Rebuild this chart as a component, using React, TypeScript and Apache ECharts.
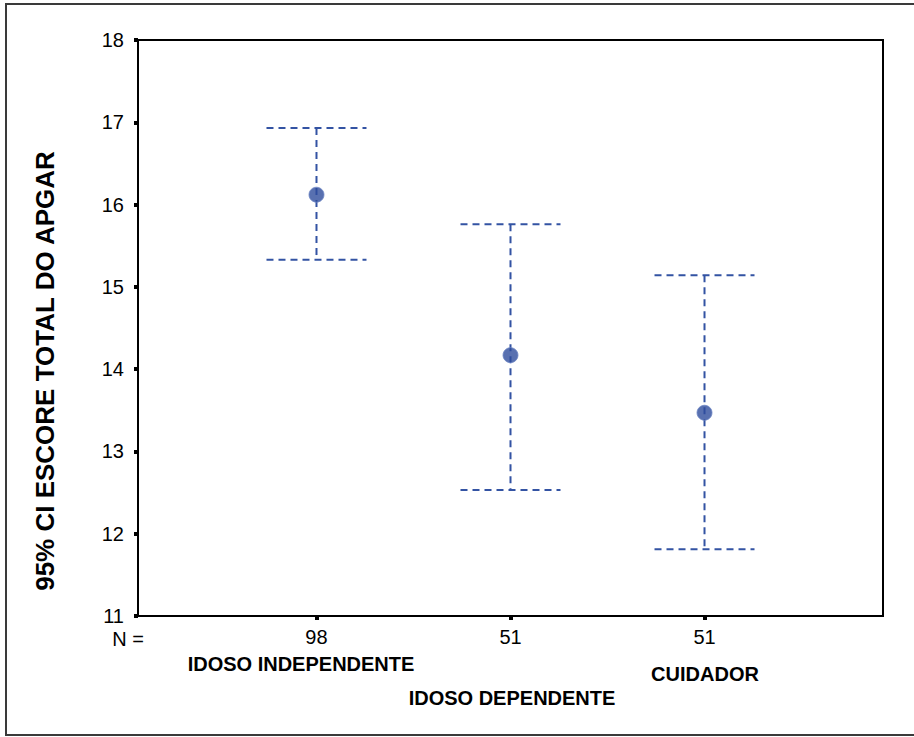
import React, { useEffect, useRef } from "react";
import * as echarts from "echarts";

const groups = ["IDOSO INDEPENDENTE", "IDOSO DEPENDENTE", "CUIDADOR"];
const nValues = ["98", "51", "51"];
const means = [16.12, 14.17, 13.47];
const upper = [16.93, 15.76, 15.14];
const lower = [15.33, 12.53, 11.81];
const yTicks = [11, 12, 13, 14, 15, 16, 17, 18];
const yTitle = "95% CI ESCORE TOTAL DO APGAR";

const BLUE = "#3353a3";
const FONT = "'Liberation Sans', Arial, sans-serif";

export default function App() {
  const ref = useRef<HTMLDivElement>(null);
  useEffect(() => {
    document.body.style.margin = "0";
    const chart = echarts.init(ref.current!, null, { renderer: "svg" });
    const positions = [1, 2, 3];
    const errData = positions.map((p, i) => [p, lower[i], upper[i]]);
    const meanData = positions.map((p, i) => [p, means[i]]);
    const labelText = (text: string, x: number, y: number, bold: boolean) => ({
      type: "text",
      x,
      y,
      style: {
        text,
        fill: "#000",
        font: `${bold ? "bold " : ""}20px ${FONT}`,
        align: "center",
        verticalAlign: "middle",
      },
    });
    chart.setOption({
      animation: false,
      backgroundColor: "#ffffff",
      grid: {
        left: 138,
        top: 40,
        right: 31,
        bottom: 121,
        show: true,
        borderColor: "#000",
        borderWidth: 2,
        backgroundColor: "transparent",
      },
      xAxis: {
        type: "value",
        min: 0.08,
        max: 3.92,
        splitLine: { show: false },
        axisLine: { show: true, onZero: false, lineStyle: { color: "#000", width: 2 } },
        axisTick: {
          show: true,
          customValues: positions,
          length: 4,
          lineStyle: { color: "#000", width: 4 },
        },
        axisLabel: {
          customValues: positions,
          formatter: (v: number) => nValues[Math.round(v) - 1] ?? "",
          color: "#000",
          fontFamily: FONT,
          fontSize: 20,
          margin: 11,
        },
      },
      yAxis: {
        type: "value",
        min: 11,
        max: 18,
        interval: 1,
        splitLine: { show: false },
        axisLine: { show: true, lineStyle: { color: "#000", width: 2 } },
        axisTick: { show: true, length: 4, lineStyle: { color: "#000", width: 4 } },
        axisLabel: {
          color: "#000",
          fontFamily: FONT,
          fontSize: 20,
          margin: 14,
          formatter: (v: number) => (yTicks.includes(v) ? String(v) : ""),
        },
      },
      graphic: [
        {
          type: "rect",
          shape: { x: 6, y: 4, width: 912, height: 731 },
          style: { fill: "none", stroke: "#3a3a3a", lineWidth: 2 },
          silent: true,
        },
        {
          type: "text",
          x: 45,
          y: 371,
          rotation: Math.PI / 2,
          style: {
            text: yTitle,
            fill: "#000",
            font: `bold 26px ${FONT}`,
            align: "center",
            verticalAlign: "middle",
          },
        },
        labelText("N =", 128, 639, false),
        labelText(groups[0], 301, 664, true),
        labelText(groups[1], 512, 698, true),
        labelText(groups[2], 705, 674, true),
      ],
      series: [
        {
          type: "custom",
          data: errData,
          renderItem: (params: any, api: any) => {
            const x = api.value(0);
            const lo = api.coord([x, api.value(1)]);
            const hi = api.coord([x, api.value(2)]);
            const hw = 50;
            const style = {
              stroke: BLUE,
              lineWidth: 2,
              lineDash: [7, 5],
              fill: "none",
            };
            return {
              type: "group",
              children: [
                { type: "line", shape: { x1: hi[0], y1: hi[1], x2: lo[0], y2: lo[1] }, style },
                { type: "line", shape: { x1: hi[0] - hw, y1: hi[1], x2: hi[0] + hw, y2: hi[1] }, style },
                { type: "line", shape: { x1: lo[0] - hw, y1: lo[1], x2: lo[0] + hw, y2: lo[1] }, style },
              ],
            };
          },
          z: 2,
        },
        {
          type: "scatter",
          data: meanData,
          symbol: "circle",
          symbolSize: 15,
          itemStyle: { color: "#2e4c9c", borderColor: "#6d86c4", borderWidth: 1 },
          z: 3,
        },
      ],
    });
    return () => chart.dispose();
  }, []);
  return <div ref={ref} style={{ width: 914, height: 737 }} />;
}
